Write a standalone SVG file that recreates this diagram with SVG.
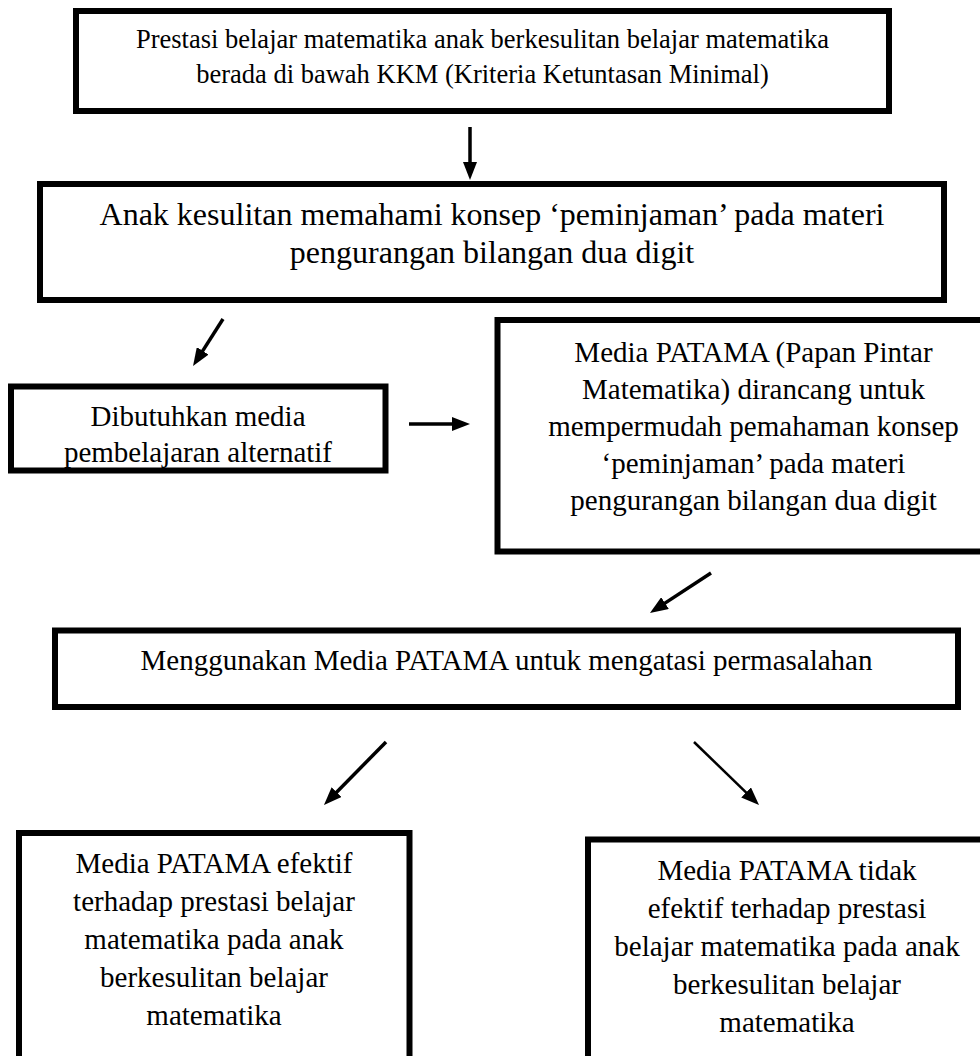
<svg xmlns="http://www.w3.org/2000/svg" width="980" height="1056" viewBox="0 0 980 1056">
<style>
.box{fill:#fff;stroke:#000;stroke-width:6}
.t{font-family:"Liberation Serif","Times New Roman",serif;fill:#000;text-anchor:middle}
.s1{font-size:26.5px}.s2{font-size:32px}.s3{font-size:29px}
.c{stroke:#000;stroke-width:3.5;fill:none;marker-end:url(#ah)}
</style>
<defs>
<marker id="ah" markerUnits="userSpaceOnUse" markerWidth="18" markerHeight="14" refX="6" refY="7" orient="auto">
<path d="M0,0 L18,7 L0,14 z" fill="#000"/>
</marker>
</defs>
<rect width="980" height="1056" fill="#fff"/>
<g id="n1">
<rect class="box" x="76" y="11" width="813" height="100"/>
<text class="t s1" x="482.5" y="48">Prestasi belajar matematika anak berkesulitan belajar matematika</text>
<text class="t s1" x="482.5" y="83">berada di bawah KKM (Kriteria Ketuntasan Minimal)</text>
</g>
<g id="n2">
<rect class="box" x="40" y="184" width="904" height="116"/>
<text class="t s2" x="492" y="225">Anak kesulitan memahami konsep ‘peminjaman’ pada materi</text>
<text class="t s2" x="492" y="263">pengurangan bilangan dua digit</text>
</g>
<g id="n3">
<rect class="box" x="11" y="386.5" width="374.5" height="84"/>
<text class="t s3" x="198" y="426">Dibutuhkan media</text>
<text class="t s3" x="198" y="462">pembelajaran alternatif</text>
</g>
<g id="n4">
<rect class="box" x="497.5" y="320" width="512" height="231.5"/>
<text class="t s3" x="753.5" y="362">Media PATAMA (Papan Pintar</text>
<text class="t s3" x="753.5" y="399">Matematika) dirancang untuk</text>
<text class="t s3" x="753.5" y="436">mempermudah pemahaman konsep</text>
<text class="t s3" x="753.5" y="473">‘peminjaman’ pada materi</text>
<text class="t s3" x="753.5" y="510">pengurangan bilangan dua digit</text>
</g>
<g id="n5">
<rect class="box" x="55" y="630.5" width="903" height="76.5"/>
<text class="t s3" x="506.5" y="670">Menggunakan Media PATAMA untuk mengatasi permasalahan</text>
</g>
<g id="n6">
<rect class="box" x="19" y="833" width="390.5" height="240"/>
<text class="t s3" x="214" y="873">Media PATAMA efektif</text>
<text class="t s3" x="214" y="911">terhadap prestasi belajar</text>
<text class="t s3" x="214" y="949">matematika pada anak</text>
<text class="t s3" x="214" y="987">berkesulitan belajar</text>
<text class="t s3" x="214" y="1025">matematika</text>
</g>
<g id="n7">
<rect class="box" x="588" y="839.5" width="398" height="240"/>
<text class="t s3" x="787" y="880">Media PATAMA tidak</text>
<text class="t s3" x="787" y="918">efektif terhadap prestasi</text>
<text class="t s3" x="787" y="956">belajar matematika pada anak</text>
<text class="t s3" x="787" y="994">berkesulitan belajar</text>
<text class="t s3" x="787" y="1032">matematika</text>
</g>
<g id="connectors">
<line class="c" x1="470" y1="127" x2="470" y2="168"/>
<line class="c" x1="223" y1="319" x2="199.5" y2="355.9"/>
<line class="c" x1="409" y1="424" x2="458" y2="424"/>
<line class="c" x1="711" y1="573" x2="660" y2="606.4"/>
<line class="c" x1="386" y1="742" x2="332.4" y2="796.4"/>
<line class="c" x1="694" y1="742" x2="750.4" y2="796.6" style="stroke-width:2.5"/>
</g>
</svg>
